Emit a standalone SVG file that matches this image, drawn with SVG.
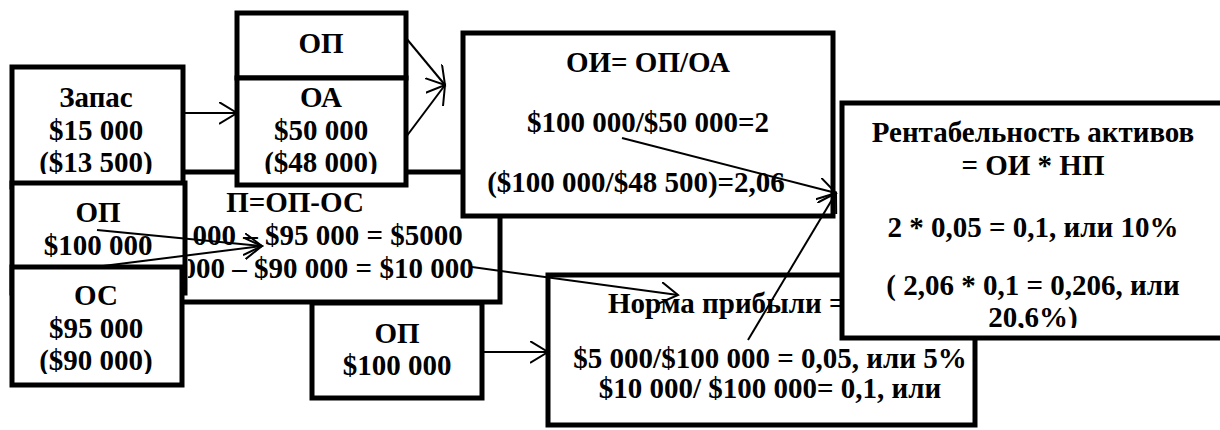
<svg xmlns="http://www.w3.org/2000/svg" width="1220" height="430" viewBox="0 0 1220 430">
<style>
.box{fill:#fff;stroke:#000;stroke-width:5}
.t{font-weight:bold;font-size:29px;fill:#000;text-anchor:middle}
.ts{text-anchor:start}
.c{stroke:#000;stroke-width:2;fill:none;marker-end:url(#arr)}
</style>
<defs>
<marker id="arr" markerUnits="userSpaceOnUse" markerWidth="22" markerHeight="24" refX="18" refY="11" orient="auto">
<path d="M0,0 L18,11 L0,22" fill="none" stroke="#000" stroke-width="2"/>
</marker>
<clipPath id="clipP"><rect x="188" y="175" width="310" height="125"/></clipPath>
<clipPath id="clipZ"><rect x="0" y="60" width="240" height="114"/></clipPath>
<clipPath id="clipA"><rect x="230" y="80" width="180" height="94"/></clipPath>
<clipPath id="clipC"><rect x="0" y="270" width="200" height="104"/></clipPath>
<clipPath id="clipR"><rect x="840" y="100" width="380" height="228"/></clipPath>
</defs>

<g id="profit">
<rect class="box" x="90" y="172" width="410" height="130"/>
<g clip-path="url(#clipP)">
<text class="t" font-family="'Liberation Serif', serif" x="295" y="212">П=ОП-ОС</text>
<text class="t" font-family="'Liberation Serif', serif" x="295" y="245">$100 000 – $95 000 = $5000</text>
<text class="t" font-family="'Liberation Serif', serif" x="295" y="278">$100 000 – $90 000 = $10 000</text>
</g>
</g>

<g id="stock">
<rect class="box" x="12" y="67" width="171" height="120"/>
<g clip-path="url(#clipZ)">
<text class="t" font-family="'Liberation Serif', serif" x="96" y="107">Запас</text>
<text class="t" font-family="'Liberation Serif', serif" x="96" y="140">$15 000</text>
<text class="t" font-family="'Liberation Serif', serif" x="96" y="172">($13 500)</text>
</g>
</g>

<g id="sales-top">
<rect class="box" x="237" y="13" width="169" height="65"/>
<text class="t" font-family="'Liberation Serif', serif" x="321" y="53">ОП</text>
</g>

<g id="assets">
<rect class="box" x="237" y="78" width="169" height="107"/>
<g clip-path="url(#clipA)">
<text class="t" font-family="'Liberation Serif', serif" x="321" y="107">ОА</text>
<text class="t" font-family="'Liberation Serif', serif" x="321" y="140">$50 000</text>
<text class="t" font-family="'Liberation Serif', serif" x="321" y="172">($48 000)</text>
</g>
</g>

<g id="turnover">
<rect class="box" x="463" y="33" width="370" height="183"/>
<text class="t" font-family="'Liberation Serif', serif" x="648" y="72">ОИ= ОП/ОА</text>
<text class="t" font-family="'Liberation Serif', serif" x="648" y="132">$100 000/$50 000=2</text>
<text class="t" font-family="'Liberation Serif', serif" x="636" y="192">($100 000/$48 500)=2,06</text>
</g>

<g id="sales-left">
<rect class="box" x="12" y="183" width="173" height="110"/>
<text class="t" font-family="'Liberation Serif', serif" x="98" y="222">ОП</text>
<text class="t" font-family="'Liberation Serif', serif" x="98" y="255">$100 000</text>
</g>

<g id="costs">
<rect class="box" x="12" y="267" width="170" height="118"/>
<g clip-path="url(#clipC)">
<text class="t" font-family="'Liberation Serif', serif" x="96" y="305">ОС</text>
<text class="t" font-family="'Liberation Serif', serif" x="96" y="338">$95 000</text>
<text class="t" font-family="'Liberation Serif', serif" x="96" y="370">($90 000)</text>
</g>
</g>

<g id="sales-bottom">
<rect class="box" x="312" y="303" width="170" height="95"/>
<text class="t" font-family="'Liberation Serif', serif" x="397" y="343">ОП</text>
<text class="t" font-family="'Liberation Serif', serif" x="397" y="375">$100 000</text>
</g>

<g id="margin">
<rect class="box" x="548" y="275" width="427" height="150"/>
<text class="t ts" font-family="'Liberation Serif', serif" x="608" y="313">Норма прибыли =</text>
<text class="t" font-family="'Liberation Serif', serif" x="770" y="368">$5 000/$100 000 = 0,05, или 5%</text>
<text class="t" font-family="'Liberation Serif', serif" x="770" y="398">$10 000/ $100 000= 0,1, или</text>
</g>

<g id="roa">
<rect class="box" x="842" y="103" width="382" height="235"/>
<g clip-path="url(#clipR)">
<text class="t" font-family="'Liberation Serif', serif" x="1033" y="142">Рентабельность активов</text>
<text class="t" font-family="'Liberation Serif', serif" x="1033" y="175">= ОИ * НП</text>
<text class="t" font-family="'Liberation Serif', serif" x="1033" y="237">2 * 0,05 = 0,1, или 10%</text>
<text class="t" font-family="'Liberation Serif', serif" x="1033" y="295">( 2,06 * 0,1 = 0,206, или</text>
<text class="t" font-family="'Liberation Serif', serif" x="1033" y="327">20,6%)</text>
</g>
</g>

<g id="connectors">
<line class="c" x1="183" y1="113" x2="237" y2="113"/>
<line class="c" x1="406" y1="38" x2="445" y2="85"/>
<line class="c" x1="406" y1="137" x2="445" y2="85"/>
<line class="c" x1="97" y1="230" x2="262" y2="246"/>
<line class="c" x1="103" y1="266" x2="262" y2="246"/>
<line class="c" x1="472" y1="267" x2="678" y2="295"/>
<line class="c" x1="482" y1="352" x2="548" y2="352"/>
<line class="c" x1="622" y1="138" x2="836" y2="193"/>
<line class="c" x1="748" y1="340" x2="836" y2="193"/>
</g>
</svg>
